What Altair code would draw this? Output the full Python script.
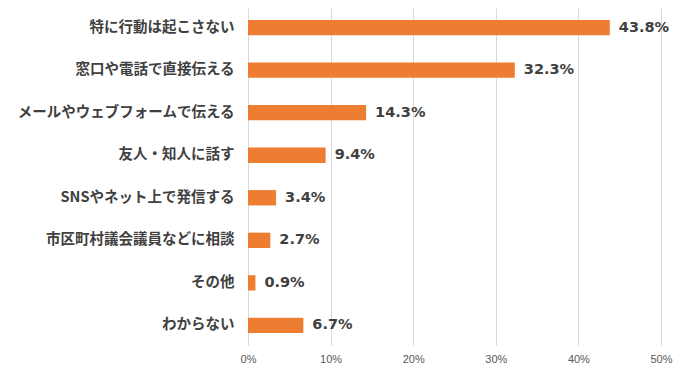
import altair as alt
import pandas as pd

categories = ["特に行動は起こさない", "窓口や電話で直接伝える", "メールやウェブフォームで伝える",
              "友人・知人に話す", "SNSやネット上で発信する", "市区町村議会議員などに相談",
              "その他", "わからない"]
values = [43.8, 32.3, 14.3, 9.4, 3.4, 2.7, 0.9, 6.7]
x_ticks = [0, 10, 20, 30, 40, 50]

df = pd.DataFrame({"cat": categories, "val": values,
                   "lbl": [f"{v:.1f}%" for v in values]})

font = "Noto Sans CJK JP"

y_enc = alt.Y("cat:N", sort=categories,
              scale=alt.Scale(paddingInner=0.64, paddingOuter=0.28),
              axis=alt.Axis(title=None, domain=False, ticks=False, labelFont=font,
                            labelFontSize=14.5, labelFontWeight="bold", labelColor="#404040",
                            labelPadding=14, labelLimit=300))
x_enc = alt.X("val:Q", scale=alt.Scale(domain=[0, 50], nice=False),
              axis=alt.Axis(title=None, values=x_ticks, labelExpr="datum.value + '%'",
                            domain=False, ticks=False, grid=True, gridColor="#d9d9d9",
                            labelFlush=False, labelOverlap=False,
                            labelFont="Liberation Sans", labelFontSize=11, labelColor="#595959",
                            labelPadding=8))

bars = alt.Chart(df).mark_bar(color="#ED7D31").encode(x=x_enc, y=y_enc)
text = alt.Chart(df).mark_text(align="left", dx=9, font="DejaVu Sans", fontSize=14.5,
                               fontWeight="bold", color="#404040").encode(
    x="val:Q", y=alt.Y("cat:N", sort=categories), text="lbl:N")

chart = (bars + text).properties(
    width=413, height=337,
    autosize=alt.AutoSizeParams(type="none"),
    padding={"left": 240, "top": 0, "right": 18, "bottom": 30},
).configure_view(stroke=None)

chart.save("out.html", embed_options={"renderer": "svg", "actions": False})
